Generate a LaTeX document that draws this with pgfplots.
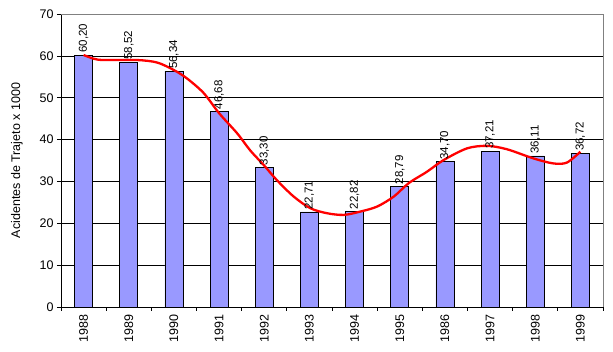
\documentclass[border=0pt]{standalone}
\usepackage{fontspec}
\setmainfont{Liberation Sans}
\usepackage{pgfplots}
\usepackage{pgfplotstable}
\pgfplotsset{compat=1.18}
\definecolor{barblue}{RGB}{153,153,255}
\pgfplotstableread{
x y lab
0 60.20 60,20
1 58.52 58,52
2 56.34 56,34
3 46.68 46,68
4 33.30 33,30
5 22.71 22,71
6 22.82 22,82
7 28.79 28,79
8 34.70 34,70
9 37.21 37,21
10 36.11 36,11
11 36.72 36,72
}\bars
\begin{document}
\begin{tikzpicture}
\begin{axis}[
  at={(0,0)}, anchor=south west,
  scale only axis, width=542pt, height=293pt,
  xmin=-0.5, xmax=11.5, ymin=0, ymax=70,
  xtick={-0.5,0.5,...,11.5},
  x tick label as interval,
  xticklabels={1988,1989,1990,1991,1992,1993,1994,1995,1986,1997,1998,1999},
  xticklabel style={rotate=90, anchor=east, font=\fontsize{12.5}{14}\selectfont},
  ytick={0,10,...,70},
  yticklabel style={font=\fontsize{12.5}{14}\selectfont},
  /pgf/number format/assume math mode=true,
  ymajorgrids, grid style={black, line width=0.7pt},
  tick align=outside, major tick length=4pt,
  tick style={black, line width=0.7pt},
  axis x line*=bottom, axis y line*=left,
  axis line style={black, line width=0.7pt},
  ylabel={Acidentes de Trajeto x 1000},
  every axis y label/.style={at={(rel axis cs:-0.0812,0.5)}, rotate=90, anchor=center, font=\fontsize{12.5}{14}\selectfont},
  clip=false,
]
\addplot[ybar, bar width=18pt, fill=barblue, draw=black, line width=0.7pt,
  nodes near coords, point meta=explicit symbolic,
  nodes near coords style={rotate=90, anchor=west, inner sep=2pt, font=\fontsize{11.5}{13}\selectfont, black}]
  table[x=x, y=y, meta=lab]{\bars};
\addplot[red, line width=2.3pt, smooth, tension=0.5] coordinates {
(0,60.2) (0.23,59.3) (0.45,59.0) (1.19,59.0) (1.63,58.4) (2.0,56.6) (2.29,54.6)
(2.66,51.1) (3.0,46.3) (3.4,41.5) (3.69,37.4) (3.99,33.9) (4.28,30.3) (4.65,26.4)
(5.02,23.6) (5.39,22.4) (5.76,22.0) (6.13,22.8) (6.5,24.0) (6.87,26.4) (7.2,29.6)
(7.6,32.3) (7.97,35.1) (8.49,37.9) (8.93,38.5) (9.37,37.7) (9.96,35.5) (10.4,34.3)
(10.7,34.5) (11.0,37.1)
};
\draw[gray, line width=0.7pt] (rel axis cs:0,1) -- (rel axis cs:1,1) -- (rel axis cs:1,0);
\end{axis}
\pgfresetboundingbox
\path (-61pt,-45pt) rectangle (552pt,307pt);
\end{tikzpicture}
\end{document}
